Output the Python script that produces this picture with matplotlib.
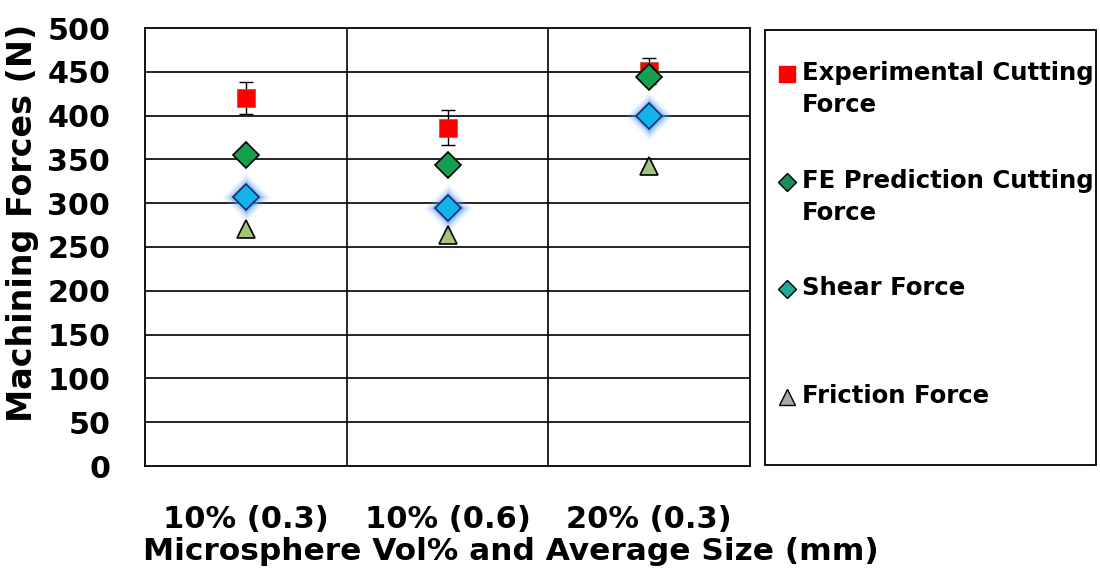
import numpy as np
import matplotlib
matplotlib.use("Agg")
import matplotlib.pyplot as plt
from matplotlib.lines import Line2D
from matplotlib.patches import Rectangle
from matplotlib.legend_handler import HandlerLine2D

# Machining forces per microsphere configuration (N)
categories = ["10% (0.3)", "10% (0.6)", "20% (0.3)"]
experimental = [420, 386, 451]
experimental_err = [18, 20, 15]
fe_prediction = [355, 344, 444]
shear = [307, 294, 399]
friction = [270, 264, 342]
series_labels = ["Experimental Cutting\nForce", "FE Prediction Cutting\nForce",
                 "Shear Force\n ", "Friction Force\n "]
y_ticks = list(range(0, 501, 50))

plt.rcParams["font.family"] = ["DejaVu Sans"]
plt.rcParams["font.weight"] = "bold"

W, H = 1100, 568
fig = plt.figure(figsize=(W / 100, H / 100), dpi=100)
fig.patch.set_facecolor("white")
ax = fig.add_axes([145 / W, 1 - 466 / H, 605 / W, 438 / H])

x = np.arange(len(categories))

# experimental values with their scatter
ax.errorbar(x, experimental, yerr=experimental_err, fmt="none", ecolor="black",
            elinewidth=1.0, capsize=5, capthick=1.0, zorder=3)
ax.plot(x, experimental, "s", ms=12.5, color="#ff0000", mec="#9a5a2a", mew=0.5,
        linestyle="none", zorder=4)
ax.plot(x, fe_prediction, "D", ms=13.5, color="#14a04e", mec="black", mew=1.2,
        linestyle="none", zorder=5)
# soft halo around shear force markers
for ms, a in [(24, 0.10), (21, 0.16), (18.5, 0.25), (16.5, 0.35)]:
    ax.plot(x, shear, "D", ms=ms, color="#4a9cf2", mec="none", alpha=a,
            linestyle="none", zorder=5)
ax.plot(x, shear, "D", ms=13.5, color="#12b4ea", mec="#1a2a6a", mew=1.2,
        linestyle="none", zorder=6)
ax.plot(x, friction, "^", ms=13, color="#a3c57a", mec="black", mew=1.2,
        linestyle="none", zorder=6)

ax.set_xlim(-0.5, len(categories) - 0.5)
ax.set_ylim(0, 500)
ax.set_yticks(y_ticks)
ax.set_yticklabels([str(v) for v in y_ticks], fontsize=21.7, fontweight="bold")
ax.set_xticks(x)
ax.set_xticklabels(categories, fontsize=22, fontweight="bold")
ax.tick_params(axis="y", length=0, pad=25)
ax.tick_params(axis="x", length=0, pad=28)

# grid: horizontal at every tick, vertical between categories
for v in y_ticks[1:-1]:
    ax.axhline(v, color="black", lw=1.2, zorder=1)
for b in x[:-1] + 0.5:
    ax.axvline(b, color="black", lw=1.2, zorder=1)
for s in ax.spines.values():
    s.set_color("black")
    s.set_linewidth(1.3)

fig.text(511 / W, 1 - 552 / H, "Microsphere Vol% and Average Size (mm)",
         ha="center", va="center", fontsize=22.5, fontweight="bold")
fig.text(23 / W, 1 - 223 / H, "Machining Forces (N)", rotation=90,
         ha="center", va="center", fontsize=24, fontweight="bold")


class FirstLineHandler(HandlerLine2D):
    """Place the legend marker beside the first line of a two-line label."""

    def __init__(self, lift, **kw):
        super().__init__(**kw)
        self.lift = lift

    def create_artists(self, legend, orig_handle, xdescent, ydescent, width,
                       height, fontsize, trans):
        arts = super().create_artists(legend, orig_handle, xdescent, ydescent,
                                      width, height, fontsize, trans)
        for a in arts:
            a.set_ydata(np.asarray(a.get_ydata()) + self.lift)
        return arts


handles = [
    Line2D([], [], marker="s", ms=11, color="#ff0000", mec="#ff0000", ls="none"),
    Line2D([], [], marker="D", ms=9.5, color="#1e8c5a", mec="black", mew=1.0, ls="none"),
    Line2D([], [], marker="D", ms=9.5, color="#22aa98", mec="black", mew=1.0, ls="none"),
    Line2D([], [], marker="^", ms=11, color="#a8a8a8", mec="black", mew=1.0, ls="none"),
]
leg = fig.legend(handles, series_labels, loc="upper left",
                 bbox_to_anchor=(776 / W, 1 - 61 / H), frameon=False,
                 prop={"size": 17.6, "weight": "bold"}, handlelength=0.9,
                 handletextpad=0.15, borderpad=0, borderaxespad=0,
                 labelspacing=2.1,
                 handler_map={h: FirstLineHandler(11.5) for h in handles})
for t in leg.get_texts():
    t.set_linespacing(1.43)

fig.add_artist(Rectangle((765 / W, 1 - 465 / H), 331 / W, 435 / H,
                         transform=fig.transFigure, fill=False,
                         edgecolor="black", linewidth=1.3))

fig.savefig("out.png", dpi=100)
